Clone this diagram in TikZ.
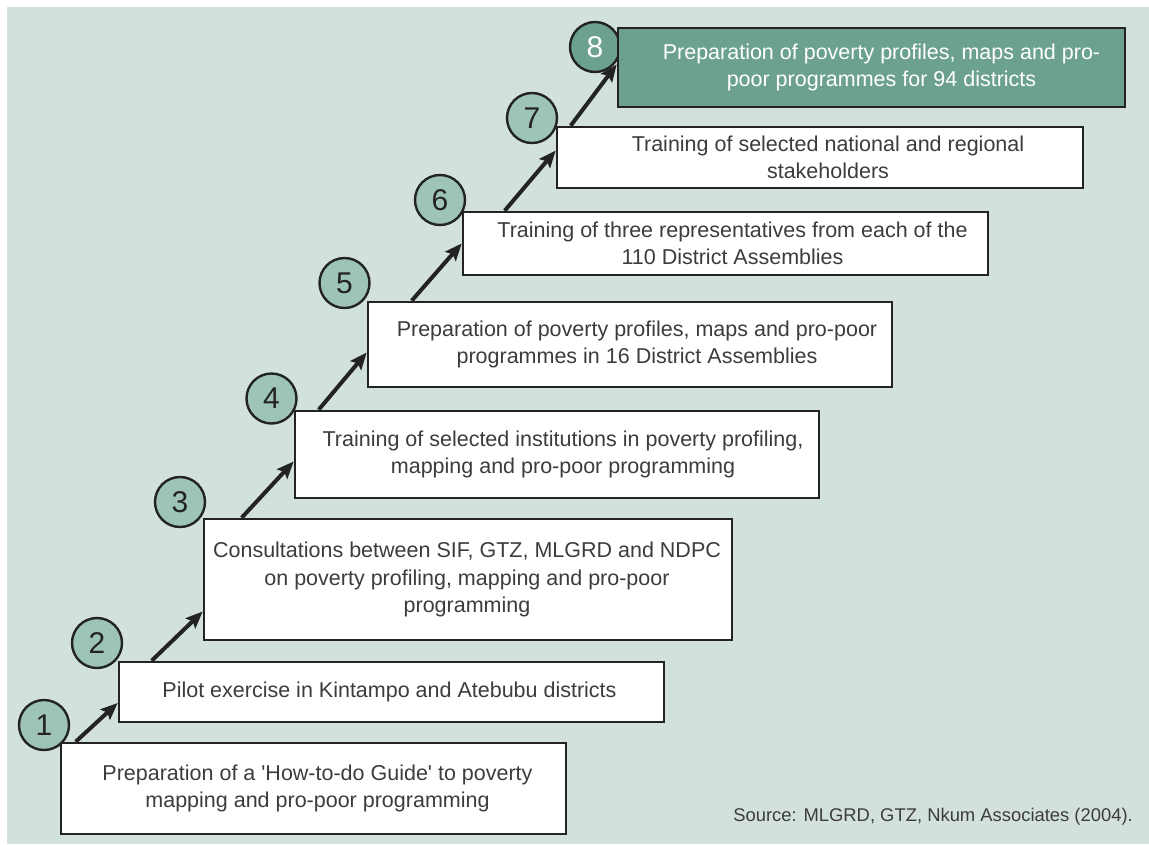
\documentclass[tikz,border=0pt]{standalone}
\usepackage{fontspec}
\setmainfont{Liberation Sans}
\usetikzlibrary{arrows.meta}

\definecolor{panel}{RGB}{210,225,218}
\definecolor{disc}{RGB}{157,196,181}
\definecolor{goal}{RGB}{108,161,141}
\definecolor{ink}{RGB}{35,35,35}
\definecolor{txt}{RGB}{60,60,60}

\begin{document}
\begin{tikzpicture}[x=1pt,y=-1pt,
  stepbox/.style={draw=ink, line width=2.6pt, fill=white, inner sep=0pt},
  goalbox/.style={stepbox, fill=goal},
  steptext/.style={text=txt, align=center, inner sep=0pt,
    font=\fontsize{21.5}{27.5}\selectfont},
  goaltext/.style={steptext, text=white},
  num/.style={circle, draw=ink, line width=2.4pt, fill=disc, minimum size=50pt,
    inner sep=0pt, text=ink, font=\fontsize{30}{30}\selectfont},
  goalnum/.style={num, fill=goal, text=white},
  stepline/.style={draw=ink, line width=4pt, -{Stealth[length=17pt,width=14pt,inset=3pt]}},
  srcnote/.style={text=txt, font=\fontsize{18.4}{22}\selectfont, inner sep=0pt}
]
\useasboundingbox (0,0) rectangle (1149,844);
\fill[panel] (7,7) rectangle (1149,844);

% numbered discs
\node[num] (n1) at (44,725) {1};
\node[num] (n2) at (97,643) {2};
\node[num] (n3) at (180,502) {3};
\node[num] (n4) at (271.5,398.5) {4};
\node[num] (n5) at (344.5,283) {5};
\node[num] (n6) at (440,200) {6};
\node[num] (n7) at (532,118) {7};
\node[goalnum] (n8) at (595,47) {8};

% steps of the staircase
\node[stepbox, minimum width=505pt, minimum height=91pt] (b1) at (313.5,788.5) {};
\node[stepbox, minimum width=545pt, minimum height=60pt] (b2) at (391.5,692) {};
\node[stepbox, minimum width=528pt, minimum height=121pt] (b3) at (468,579.5) {};
\node[stepbox, minimum width=524pt, minimum height=87pt] (b4) at (557,454.5) {};
\node[stepbox, minimum width=524pt, minimum height=85pt] (b5) at (630,344.5) {};
\node[stepbox, minimum width=525pt, minimum height=63pt] (b6) at (725.5,243.5) {};
\node[stepbox, minimum width=526pt, minimum height=61pt] (b7) at (820,157.5) {};
\node[goalbox, minimum width=507pt, minimum height=79pt] (b8) at (871.5,67.5) {};

% step captions
\node[steptext] (t1) at ([xshift=4pt]b1.center)
  {Preparation of a \textquotesingle How-to-do Guide\textquotesingle\ to poverty\\mapping and pro-poor programming};
\node[steptext] (t2) at ([xshift=-2pt]b2.center)
  {Pilot exercise in Kintampo and Atebubu districts};
\node[steptext] (t3) at ([xshift=-1pt]b3.center)
  {Consultations between SIF, GTZ, MLGRD and NDPC\\on poverty profiling, mapping and pro-poor\\programming};
\node[steptext] (t4) at ([xshift=6pt]b4.center)
  {Training of selected institutions in poverty profiling,\\mapping and pro-poor programming};
\node[steptext] (t5) at ([xshift=7pt]b5.center)
  {Preparation of poverty profiles, maps and pro-poor\\programmes in 16 District Assemblies};
\node[steptext] (t6) at ([xshift=7pt]b6.center)
  {Training of three representatives from each of the\\110 District Assemblies};
\node[steptext] (t7) at ([xshift=8pt]b7.center)
  {Training of selected national and regional\\stakeholders};
\node[goaltext] (t8) at ([xshift=10pt]b8.center)
  {Preparation of poverty profiles, maps and pro-\\poor programmes for 94 districts};

% arrows climbing from each step to the next
\draw[stepline] ([xshift=16pt]b1.north west) -- ([yshift=-11pt]b2.west);
\draw[stepline] ([xshift=34pt]b2.north west) -- ([yshift=-32pt]b3.west);
\draw[stepline] ([xshift=39pt]b3.north west) -- ([yshift=-7pt]b4.west);
\draw[stepline] ([xshift=25pt]b4.north west) -- ([yshift=-8pt]b5.west);
\draw[stepline] ([xshift=45pt]b5.north west) -- (b6.west);
\draw[stepline] ([xshift=43pt]b6.north west) -- ([yshift=7pt]b7.west);
\draw[stepline] ([xshift=15pt]b7.north west) -- ([yshift=3pt]b8.west);

\node[srcnote, anchor=east] (src) at (1133,817) {Source: MLGRD, GTZ, Nkum Associates (2004).};
\end{tikzpicture}
\end{document}
